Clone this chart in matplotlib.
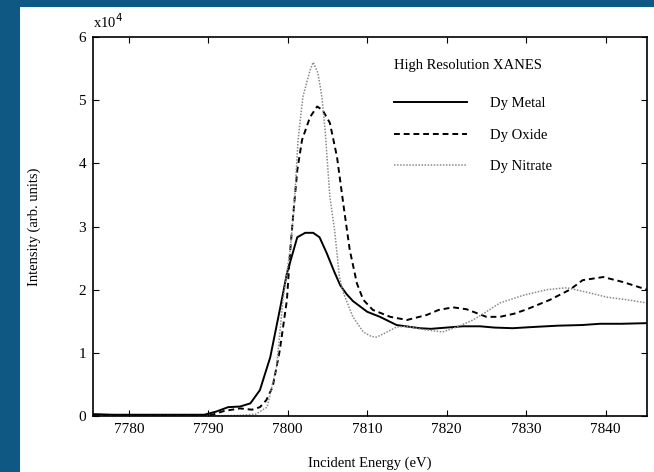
import matplotlib
matplotlib.use('Agg')
from matplotlib import pyplot as plt
from matplotlib.patches import Rectangle

plt.rcParams['font.family'] = ['Liberation Serif', 'DejaVu Serif']

# Dy metal (solid)
metal_e = [7775.5, 7778, 7782, 7786, 7789.5, 7791, 7792.5, 7794, 7795.3, 7796.5,
           7797.8, 7799, 7799.9, 7801.2, 7802.2, 7803.2, 7804.0, 7804.9, 7805.8, 7806.6,
           7807.4, 7808.2, 7810, 7811.6, 7813.7, 7816.6, 7818, 7820, 7822, 7824.2,
           7826, 7828.3, 7831, 7834, 7837, 7839.3, 7842, 7845.2]
metal_i = [0.03, 0.02, 0.02, 0.02, 0.02, 0.07, 0.14, 0.15, 0.2, 0.41,
           0.93, 1.68, 2.26, 2.83, 2.9, 2.9, 2.83, 2.58, 2.3, 2.07,
           1.93, 1.82, 1.65, 1.57, 1.44, 1.39, 1.38, 1.40, 1.42, 1.42,
           1.40, 1.39, 1.41, 1.43, 1.44, 1.46, 1.46, 1.47]

# Dy oxide (dashed)
oxide_e = [7775.5, 7780, 7788, 7790.5, 7792, 7794, 7795.5, 7796.5, 7797.3, 7798.1,
           7799, 7799.9, 7800.3, 7800.7, 7801.2, 7801.8, 7802.8, 7803.7, 7804.4, 7805.3,
           7806.2, 7807, 7807.8, 7808.7, 7809.5, 7810.7, 7812.9, 7815, 7817.5, 7819,
           7820.8, 7822.5, 7825, 7826.7, 7828.5, 7830.1, 7833, 7835.5, 7837.1, 7839.7,
           7842.2, 7845.2]
oxide_i = [0.0, 0.0, 0.0, 0.02, 0.08, 0.12, 0.1, 0.14, 0.25, 0.46,
           1.04, 1.84, 2.6, 3.2, 3.89, 4.37, 4.73, 4.9, 4.84, 4.64,
           4.1, 3.35, 2.63, 2.1, 1.84, 1.68, 1.57, 1.52, 1.6, 1.68,
           1.72, 1.69, 1.57, 1.57, 1.62, 1.69, 1.84, 2.0, 2.15, 2.2,
           2.12, 2.0]

# Dy nitrate (dotted)
nitrate_e = [7775.5, 7780, 7790, 7794, 7796, 7797.4, 7798.6, 7799.4, 7800.3, 7800.8,
             7801.3, 7801.9, 7802.8, 7803.2, 7803.8, 7804.3, 7804.7, 7805.3, 7805.9, 7806.5,
             7807, 7808.2, 7809.5, 7810.5, 7811.2, 7812.5, 7813.7, 7815, 7817, 7819.5,
             7821.5, 7823.3, 7825, 7826.7, 7829.6, 7832.6, 7835.1, 7837.6, 7840.2, 7842.7,
             7845.2]
nitrate_i = [0.0, 0.0, 0.0, 0.01, 0.03, 0.14, 0.78, 1.84, 2.63, 3.3,
             4.37, 5.05, 5.47, 5.6, 5.43, 5.05, 4.53, 3.47, 2.94, 2.2,
             1.95, 1.57, 1.33, 1.26, 1.25, 1.33, 1.41, 1.42, 1.37, 1.33,
             1.42, 1.52, 1.65, 1.79, 1.91, 2.0, 2.03, 1.96, 1.88, 1.84,
             1.79]

xticks = [7780, 7790, 7800, 7810, 7820, 7830, 7840]
yticks = [0, 1, 2, 3, 4, 5, 6]

fig = plt.figure(figsize=(6.54, 4.72), dpi=100, facecolor='#0e5883')
# white page area
fig.patches.append(Rectangle((20 / 654, 0), 1, 1 - 7 / 472, transform=fig.transFigure,
                             facecolor='white', edgecolor='none', zorder=-10))
ax = fig.add_axes([93 / 654, 56 / 472, 554 / 654, 379 / 472])
ax.set_zorder(5)

ax.plot(metal_e, metal_i, color='black', lw=1.4, ls='-', label='Dy Metal')
ax.plot(oxide_e, oxide_i, color='black', lw=1.4, ls=(0, (3, 2)), label='Dy Oxide')
ax.plot(nitrate_e, nitrate_i, color='#8a8a8a', lw=1.1, ls=(0, (1, 1)), label='Dy Nitrate')

ax.set_xlim(7775.5, 7845.2)
ax.set_ylim(0, 6)
ax.set_xticks(xticks)
ax.set_yticks(yticks)
ax.tick_params(direction='in', top=True, right=True, length=4, labelsize=11, pad=5)
for s in ax.spines.values():
    s.set_linewidth(1.2)

ax.set_xlabel('Incident Energy (eV)', fontsize=10.5, labelpad=15)
ax.set_ylabel('Intensity (arb. units)', fontsize=10.5, labelpad=27)
fig.text(93 / 654, 1 - 22 / 472, 'x10$^4$', fontsize=10.5, va='center', ha='left', zorder=6)

leg = ax.legend(loc='upper left', bbox_to_anchor=(0.519, 0.976), frameon=False,
                title='High Resolution XANES', title_fontsize=10.5, fontsize=10.5,
                handlelength=5.0, handletextpad=1.6, labelspacing=1.25,
                alignment='left')
leg._legend_box.sep = 18

plt.savefig('out.png', dpi=100, facecolor=fig.get_facecolor())
plt.close()
